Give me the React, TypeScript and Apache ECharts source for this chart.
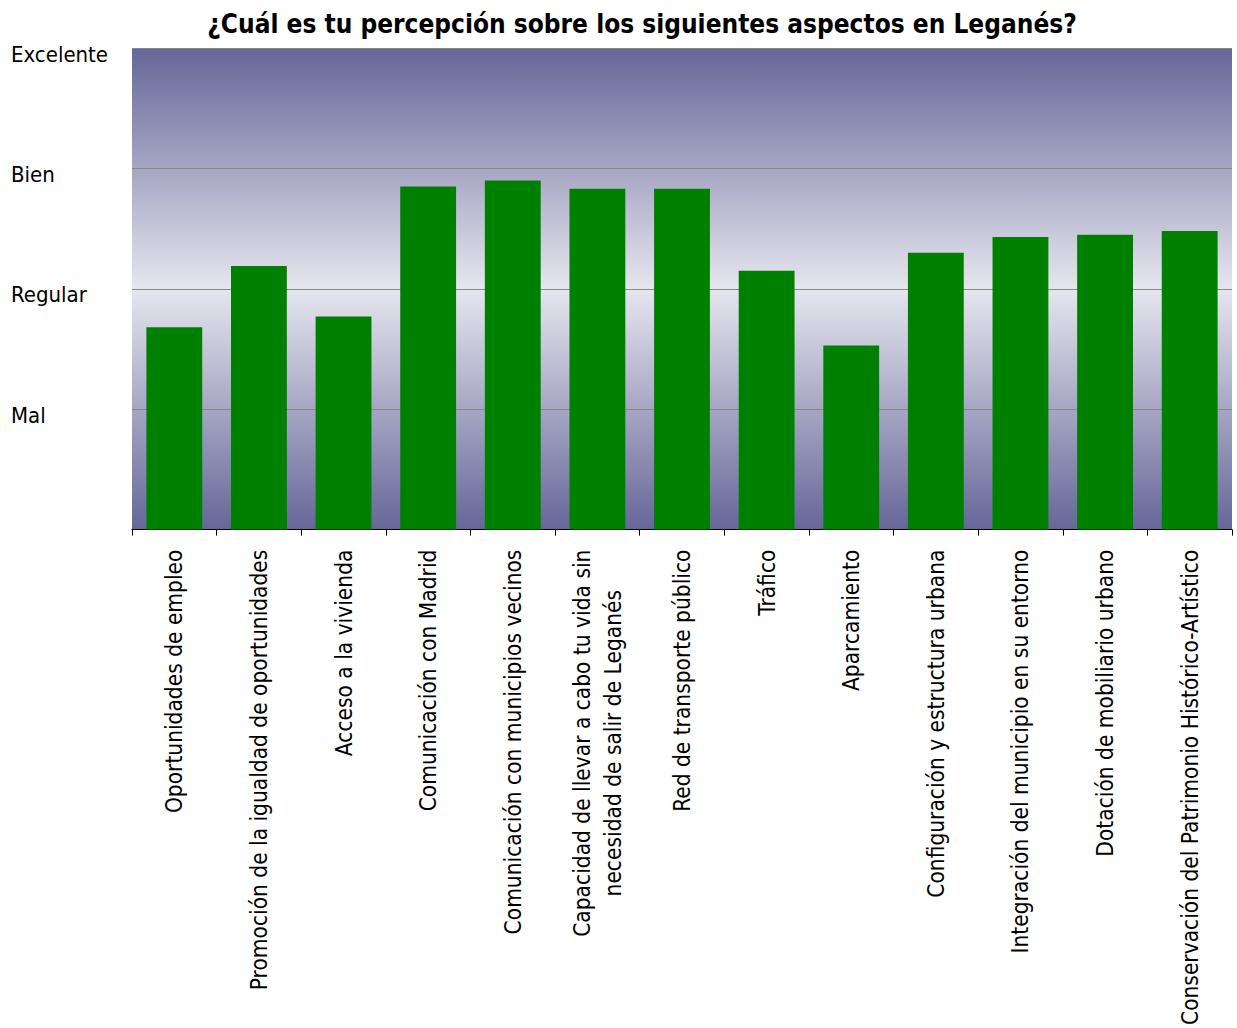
import React, { useEffect, useRef } from "react";
import * as echarts from "echarts";

const categories: string[] = [
  "Oportunidades de empleo",
  "Promoción de la igualdad de oportunidades",
  "Acceso a la vivienda",
  "Comunicación con Madrid",
  "Comunicación con municipios vecinos",
  "Capacidad de llevar a cabo tu vida sin\nnecesidad de salir de Leganés",
  "Red de transporte público",
  "Tráfico",
  "Aparcamiento",
  "Configuración y estructura urbana",
  "Integración del municipio en su entorno",
  "Dotación de mobiliario urbano",
  "Conservación del Patrimonio Histórico-Artístico",
];

const values: number[] = [1.68, 2.19, 1.77, 2.85, 2.9, 2.83, 2.83, 2.15, 1.53, 2.3, 2.43, 2.45, 2.48];

const yTickLabels: string[] = ["", "Mal", "Regular", "Bien", "Excelente"];

const titleText = "¿Cuál es tu percepción sobre los siguientes aspectos en Leganés?";

const FONT = "'DejaVu Sans Condensed', 'DejaVu Sans', sans-serif";

export default function App() {
  const ref = useRef<HTMLDivElement>(null);
  useEffect(() => {
    if (!ref.current) return;
    const chart = echarts.init(ref.current, null, { renderer: "svg" });
    chart.setOption({
      animation: false,
      backgroundColor: "#ffffff",
      title: {
        text: titleText,
        left: 637,
        top: 6,
        textAlign: "center",
        textStyle: { fontFamily: FONT, fontSize: 26, fontWeight: "bold", color: "#000" },
      },
      grid: {
        left: 132,
        right: 5,
        top: 48,
        bottom: 495,
        show: true,
        borderWidth: 0,
        backgroundColor: new echarts.graphic.LinearGradient(0, 0, 0, 1, [
          { offset: 0, color: "#666699" },
          { offset: 0.5, color: "#e6e6ef" },
          { offset: 1, color: "#666699" },
        ]),
      },
      xAxis: {
        type: "category",
        data: categories,
        axisLine: { show: true, lineStyle: { color: "#000", width: 1 } },
        axisTick: { show: true, length: 6, alignWithLabel: false, lineStyle: { color: "#000" } },
        axisLabel: {
          interval: 0,
          rotate: 90,
          margin: 20,
          color: "#000",
          fontFamily: FONT,
          fontSize: 22.5,
          lineHeight: 31,
          formatter: (v: string) =>
            v
              .split("\n")
              .map((s) => "{c|" + s + "}")
              .join("\n"),
          rich: {
            c: { align: "center", fontFamily: FONT, fontSize: 22.5, lineHeight: 31, color: "#000" },
          },
        },
      },
      yAxis: {
        type: "value",
        min: 0,
        max: 4,
        interval: 1,
        axisLine: { show: false },
        axisTick: { show: false },
        splitLine: { show: true, lineStyle: { color: "#888888", width: 1 } },
        axisLabel: {
          align: "left",
          verticalAlign: "top",
          lineHeight: 12,
          margin: 121,
          color: "#000",
          fontFamily: FONT,
          fontSize: 22,
          formatter: (v: number) => yTickLabels[Math.round(v)] ?? "",
        },
      },
      series: [
        {
          type: "bar",
          data: values,
          barCategoryGap: "34%",
          itemStyle: { color: "#008000" },
        },
      ],
    });
    return () => chart.dispose();
  }, []);
  return (
    <div
      ref={ref}
      style={{ position: "absolute", left: 0, top: 0, width: 1237, height: 1028 }}
    />
  );
}
